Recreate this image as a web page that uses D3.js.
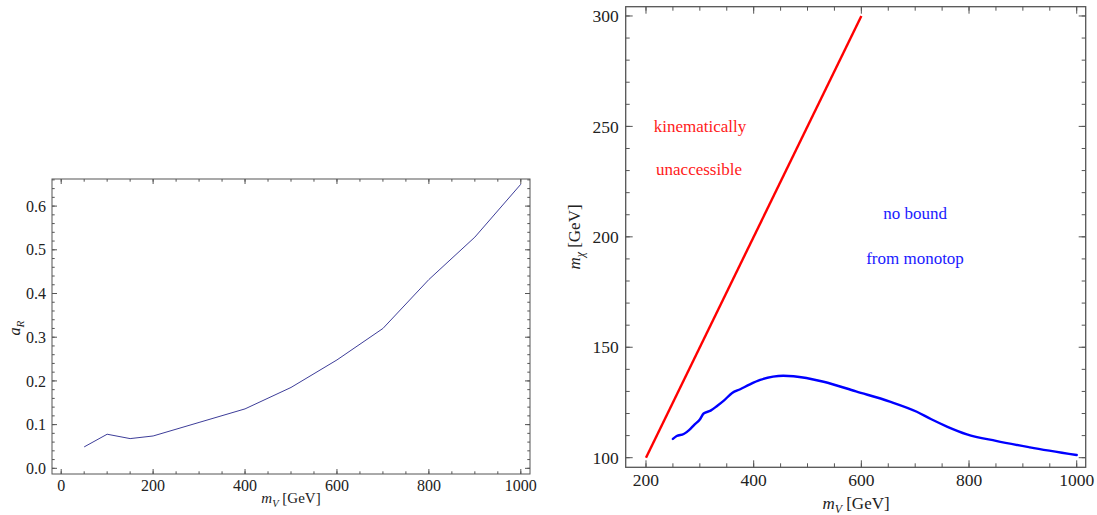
<!DOCTYPE html>
<html>
<head>
<meta charset="utf-8">
<script src="https://cdn.jsdelivr.net/npm/d3@7"></script>
<style>
  body { margin: 0; background: #fff; }
  svg { display: block; font-family: "Liberation Serif", "DejaVu Serif", serif; }
</style>
</head>
<body>
<svg id="chart" width="1097" height="515"></svg>
<script>
// left panel: a_R against m_V
const aRMass = [50, 100, 150, 200, 300, 400, 500, 600, 700, 800, 900, 1000];
const aRValue = [0.049, 0.078, 0.068, 0.074, 0.105, 0.136, 0.185, 0.248, 0.320, 0.432, 0.529, 0.650];

// right panel: kinematic limit m_chi = m_V / 2
const kinMass = [200, 600];
const kinChi = [100, 300];

// right panel: monotop bound
const boundMass = [250, 257, 270, 280, 290, 300, 307, 320, 332, 344, 360, 375, 393, 412, 436, 455, 474,
  530, 590, 653, 703, 730, 760, 796, 850, 913, 1000];
const boundChi = [108.5, 109.8, 110.7, 112.5, 115, 117.3, 120, 121.3, 123.4, 125.7, 129.3, 131, 133.2, 135.2, 136.7, 137.1, 136.9,
  134.4, 130, 125.4, 120.8, 117.4, 114, 110.6, 107.6, 104.7, 101.2];

const leftXTicks = [0, 200, 400, 600, 800, 1000];
const leftYTicks = [0, 0.1, 0.2, 0.3, 0.4, 0.5, 0.6];
const rightXTicks = [200, 400, 600, 800, 1000];
const rightYTicks = [100, 150, 200, 250, 300];

const svg = d3.select("#chart");
const FRAME = "#555";

// Mathematica-style frame with ticks on all four sides
function drawFrame(g, x, y, opt) {
  const [x0, x1] = x.range();
  const [y1, y0] = y.range();
  g.append("rect")
    .attr("x", x0).attr("y", y0)
    .attr("width", x1 - x0).attr("height", y1 - y0)
    .attr("fill", "none").attr("stroke", FRAME).attr("stroke-width", opt.frameWidth);

  const tick = (list, len, horiz) => {
    list.forEach(v => {
      if (horiz) {
        const px = x(v);
        if (px < x0 || px > x1) return;
        g.append("line").attr("x1", px).attr("x2", px).attr("y1", y1).attr("y2", y1 - len)
          .attr("stroke", FRAME).attr("stroke-width", 1);
        g.append("line").attr("x1", px).attr("x2", px).attr("y1", y0).attr("y2", y0 + len)
          .attr("stroke", FRAME).attr("stroke-width", 1);
      } else {
        const py = y(v);
        if (py < y0 || py > y1) return;
        g.append("line").attr("x1", x0).attr("x2", x0 + len).attr("y1", py).attr("y2", py)
          .attr("stroke", FRAME).attr("stroke-width", 1);
        g.append("line").attr("x1", x1).attr("x2", x1 - len).attr("y1", py).attr("y2", py)
          .attr("stroke", FRAME).attr("stroke-width", 1);
      }
    });
  };
  tick(opt.xMinor, opt.minorLen, true);
  tick(opt.xTicks, opt.majorLen, true);
  tick(opt.yMinor, opt.minorLen, false);
  tick(opt.yTicks, opt.majorLen, false);

  opt.xTicks.forEach(v => {
    g.append("text").attr("x", x(v)).attr("y", y1 + opt.xLabelGap)
      .attr("text-anchor", "middle").attr("font-size", opt.fontSize).attr("fill", "#222")
      .text(opt.xFormat(v));
  });
  opt.yTicks.forEach(v => {
    g.append("text").attr("x", x0 - opt.yLabelGap).attr("y", y(v)).attr("dy", "0.35em")
      .attr("text-anchor", "end").attr("font-size", opt.fontSize).attr("fill", "#222")
      .text(opt.yFormat(v));
  });
}

function mathLabel(g, x, y, base, sub, rest, size, rotate) {
  const t = g.append("text").attr("x", x).attr("y", y)
    .attr("text-anchor", "middle").attr("font-size", size).attr("fill", "#222");
  if (rotate) t.attr("transform", `rotate(-90,${x},${y})`);
  t.append("tspan").attr("font-style", "italic").text(base);
  t.append("tspan").attr("font-style", "italic").attr("font-size", size * 0.7)
    .attr("dy", size * 0.25).text(sub);
  if (rest) t.append("tspan").attr("dy", -size * 0.25).text(rest);
}

// ---------- left panel ----------
const lx = d3.scaleLinear().domain([-20, 1020]).range([52, 530]);
const ly = d3.scaleLinear().domain([-0.013, 0.662]).range([474, 179]);
const gl = svg.append("g");

drawFrame(gl, lx, ly, {
  frameWidth: 1,
  xTicks: leftXTicks,
  yTicks: leftYTicks,
  xMinor: d3.range(0, 1001, 50),
  yMinor: d3.range(0, 0.661, 0.02),
  majorLen: 5, minorLen: 2.7,
  fontSize: 16, xLabelGap: 17, yLabelGap: 6,
  xFormat: d3.format("d"), yFormat: d3.format(".1f")
});

gl.append("path")
  .datum(aRMass.map((m, i) => [m, aRValue[i]]))
  .attr("fill", "none").attr("stroke", "#3d3d99").attr("stroke-width", 1)
  .attr("d", d3.line().x(d => lx(d[0])).y(d => ly(d[1])));

mathLabel(gl, 291, 503, "m", "V", "\u00a0[GeV]", 15, false);
mathLabel(gl, 20, 328, "a", "R", null, 16, true);

// ---------- right panel ----------
const rx = d3.scaleLinear().domain([162.3, 1016.7]).range([625.7, 1085.7]);
const ry = d3.scaleLinear().domain([95.65, 304.2]).range([467.3, 6.7]);
const gr = svg.append("g");

drawFrame(gr, rx, ry, {
  frameWidth: 1.3,
  xTicks: rightXTicks,
  yTicks: rightYTicks,
  xMinor: d3.range(200, 1001, 50),
  yMinor: d3.range(100, 301, 10),
  majorLen: 7, minorLen: 4,
  fontSize: 17.5, xLabelGap: 19, yLabelGap: 7,
  xFormat: d3.format("d"), yFormat: d3.format("d")
});

gr.append("path")
  .datum(kinMass.map((m, i) => [m, kinChi[i]]))
  .attr("fill", "none").attr("stroke", "#ff0000").attr("stroke-width", 2.4)
  .attr("d", d3.line().x(d => rx(d[0])).y(d => ry(d[1])));

gr.append("path")
  .datum(boundMass.map((m, i) => [m, boundChi[i]]))
  .attr("fill", "none").attr("stroke", "#0000ff").attr("stroke-width", 2.4)
  .attr("stroke-linejoin", "round").attr("stroke-linecap", "round")
  .attr("d", d3.line().curve(d3.curveMonotoneX).x(d => rx(d[0])).y(d => ry(d[1])));

[["kinematically", 700, 132], ["unaccessible", 699, 175]].forEach(([s, x, y]) => {
  gr.append("text").attr("x", x).attr("y", y).attr("text-anchor", "middle")
    .attr("font-size", 17).attr("fill", "#ff1a1a").text(s);
});
[["no bound", 915, 219], ["from monotop", 915, 264]].forEach(([s, x, y]) => {
  gr.append("text").attr("x", x).attr("y", y).attr("text-anchor", "middle")
    .attr("font-size", 17).attr("fill", "#1a1aff").text(s);
});

mathLabel(gr, 856, 509, "m", "V", "\u00a0[GeV]", 17, false);
mathLabel(gr, 580, 237, "m", "χ", "\u00a0[GeV]", 17, true);
</script>
</body>
</html>
